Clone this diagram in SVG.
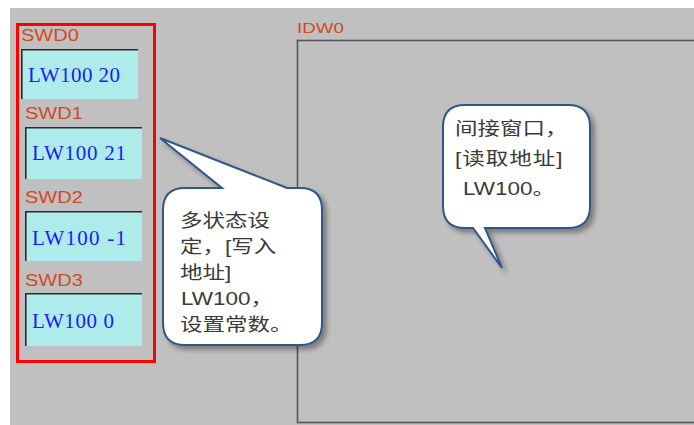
<svg xmlns="http://www.w3.org/2000/svg" width="694" height="425" viewBox="0 0 694 425">
<style>
.lbl{font-family:"Liberation Sans","Noto Sans",Arial,sans-serif;font-size:16px;fill:#d24a22}
.val{font-family:"Liberation Serif","Times New Roman",serif;font-size:21px;fill:#1a1aff}
.box{fill:#aeeceb}
.edge{fill:none;stroke:#2a2a2a;stroke-width:1.6}
.callout{fill:#ffffff;stroke:#2d5889;stroke-width:2;filter:url(#shadow)}
.ctext{font-family:"Liberation Sans","Noto Sans CJK SC",sans-serif;font-size:18px;fill:#3a3a3a}
</style>
<defs>
<filter id="shadow" x="-20%" y="-20%" width="150%" height="150%">
<feGaussianBlur in="SourceAlpha" stdDeviation="2.5"/>
<feOffset dx="4" dy="4" result="b"/>
<feComponentTransfer><feFuncA type="linear" slope="0.35"/></feComponentTransfer>
<feMerge><feMergeNode/><feMergeNode in="SourceGraphic"/></feMerge>
</filter>
</defs>
<rect x="0" y="0" width="694" height="425" fill="#ffffff"/>
<rect x="10" y="8" width="684" height="417" fill="#c0c0c0"/>

<g id="idw0">
<rect x="297.5" y="40.5" width="410" height="382" fill="none" stroke="#555555" stroke-width="1.6"/>
<text class="lbl" transform="translate(297,33) scale(1.25,1)" style="font-size:15px">IDW0</text>
</g>

<g id="swd-group">
<rect x="17.5" y="24.5" width="137" height="337" fill="none" stroke="#ff0000" stroke-width="3"/>
</g>

<g id="swd0">
<rect class="box" x="21" y="49" width="117" height="50"/>
<path class="edge" d="M21.8,99 V49.8 H138"/>
<text class="lbl" transform="translate(21,41) scale(1.25,1)">SWD0</text>
<text class="val" x="28" y="82" textLength="92" lengthAdjust="spacing">LW100 20</text>
</g>

<g id="swd1">
<rect class="box" x="25" y="127" width="117" height="52"/>
<path class="edge" d="M25.8,179 V127.8 H142"/>
<text class="lbl" transform="translate(25,119) scale(1.25,1)">SWD1</text>
<text class="val" x="32" y="160" textLength="94" lengthAdjust="spacing">LW100 21</text>
</g>

<g id="swd2">
<rect class="box" x="25" y="211" width="117" height="50"/>
<path class="edge" d="M25.8,261 V211.8 H142"/>
<text class="lbl" transform="translate(25,203) scale(1.25,1)">SWD2</text>
<text class="val" x="32" y="245" textLength="94" lengthAdjust="spacing">LW100 -1</text>
</g>

<g id="swd3">
<rect class="box" x="25" y="293" width="117" height="53"/>
<path class="edge" d="M25.8,346 V293.8 H142"/>
<text class="lbl" transform="translate(25,286) scale(1.25,1)">SWD3</text>
<text class="val" x="32" y="328" textLength="82" lengthAdjust="spacing">LW100 0</text>
</g>

<g id="callout-write">
<path class="callout" d="M185,188 H222 L160,138 L287,188 H300 Q322,188 322,210 V323 Q322,345 300,345 H185 Q163,345 163,323 V210 Q163,188 185,188 Z"/>
<text class="ctext" transform="translate(180,227) scale(1.25,1)">多状态设</text>
<text class="ctext" transform="translate(180,253) scale(1.25,1)">定，[写入</text>
<text class="ctext" transform="translate(180,279) scale(1.25,1)">地址]</text>
<text class="ctext" transform="translate(181,305) scale(1.25,1)">LW100，</text>
<text class="ctext" transform="translate(180,331) scale(1.25,1)">设置常数。</text>
</g>

<g id="callout-read">
<path class="callout" d="M465,105 H568 Q590,105 590,127 V206 Q590,228 568,228 H485 L502,268 L473,228 H465 Q443,228 443,206 V127 Q443,105 465,105 Z"/>
<text class="ctext" transform="translate(455,135) scale(1.25,1)">间接窗口，</text>
<text class="ctext" transform="translate(455,165) scale(1.25,1)" textLength="86" lengthAdjust="spacing">[读取地址]</text>
<text class="ctext" transform="translate(463,195) scale(1.25,1)">LW100。</text>
</g>

<g id="connectors"></g>
</svg>
